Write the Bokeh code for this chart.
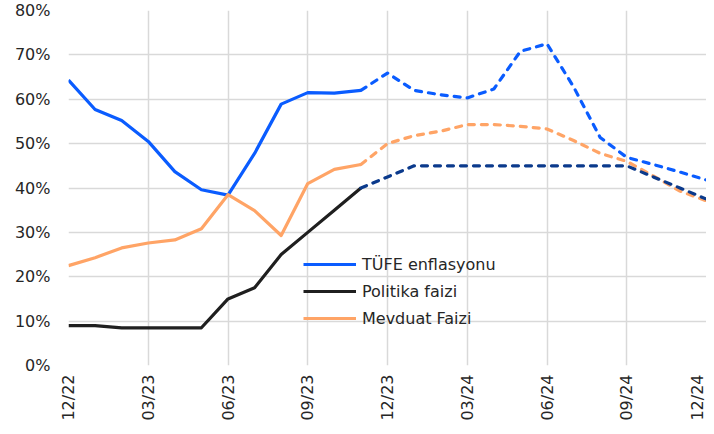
from bokeh.plotting import figure
from bokeh.models import FixedTicker, PrintfTickFormatter, Range1d, Legend, LegendItem
from bokeh.embed import file_html
from bokeh.resources import INLINE
import math

months = ["12/22", "01/23", "02/23", "03/23", "04/23", "05/23", "06/23", "07/23", "08/23",
          "09/23", "10/23", "11/23", "12/23", "01/24", "02/24", "03/24", "04/24", "05/24",
          "06/24", "07/24", "08/24", "09/24", "10/24", "11/24", "12/24"]
tufe = [64.3, 57.7, 55.2, 50.5, 43.7, 39.6, 38.4, 47.8, 58.9, 61.5, 61.4, 62.0, 65.9,
        62.0, 61.0, 60.3, 62.3, 70.8, 72.5, 62.8, 51.4, 46.9, 45.3, 43.6, 41.8]
politika = [9.0, 9.0, 8.5, 8.5, 8.5, 8.5, 15.0, 17.5, 25.0, 30.0, 35.0, 40.0, 42.5,
            45.0, 45.0, 45.0, 45.0, 45.0, 45.0, 45.0, 45.0, 45.0, 42.5, 40.0, 37.5]
mevduat = [22.5, 24.3, 26.5, 27.6, 28.3, 30.8, 38.5, 34.9, 29.3, 41.0, 44.2, 45.3, 50.0,
           51.8, 52.8, 54.3, 54.3, 53.9, 53.3, 50.7, 47.8, 46.0, 42.7, 39.3, 37.1]
split = 11  # last actual month (11/23); forecasts dashed afterwards
y_ticks = [0, 10, 20, 30, 40, 50, 60, 70, 80]

x = list(range(len(months)))
FONT = "DejaVu Sans"
TXT = "#262626"

p = figure(width=706, height=426, output_backend="svg", toolbar_location=None,
           x_range=Range1d(0, len(months) - 1), y_range=Range1d(0, 80),
           min_border_left=68, min_border_right=0, min_border_top=10, min_border_bottom=61)
p.outline_line_color = None
p.background_fill_color = "white"

# grids
p.xgrid.grid_line_color = "#d9d9d9"
p.ygrid.grid_line_color = "#d9d9d9"
p.xgrid.grid_line_width = 1.5
p.ygrid.grid_line_width = 1.5

# axes
p.xaxis.ticker = FixedTicker(ticks=x[::3])
p.xaxis.major_label_overrides = {i: months[i] for i in x[::3]}
p.xaxis.major_label_orientation = math.pi / 2
p.yaxis.ticker = FixedTicker(ticks=y_ticks)
p.yaxis.formatter = PrintfTickFormatter(format="%d%%")
for ax in (p.xaxis[0], p.yaxis[0]):
    ax.axis_line_color = None
    ax.major_tick_line_color = None
    ax.minor_tick_line_color = None
    ax.major_tick_out = 0
    ax.major_tick_in = 0
    ax.major_label_text_font = FONT
    ax.major_label_text_font_size = "16px"
    ax.major_label_text_color = TXT
p.yaxis.major_label_standoff = 18
p.xaxis.major_label_standoff = 9

BLUE = "#0a5cff"
BLACK = "#1f1f1f"
NAVY = "#0b3a8c"
ORANGE = "#ffa466"
LW = 3.2
DASH = "6 7"

xs = x[:split + 1]
xd = x[split:]
r_t = p.line(xs, tufe[:split + 1], line_color=BLUE, line_width=LW, line_join="round")
r_p = p.line(xs, politika[:split + 1], line_color=BLACK, line_width=LW, line_join="round")
r_m = p.line(xs, mevduat[:split + 1], line_color=ORANGE, line_width=LW, line_join="round")
p.line(xd, mevduat[split:], line_color=ORANGE, line_width=LW, line_dash=DASH, line_cap="round", line_join="round")
p.line(xd, politika[split:], line_color=NAVY, line_width=LW, line_dash=DASH, line_cap="round", line_join="round")
p.line(xd, tufe[split:], line_color=BLUE, line_width=LW, line_dash=DASH, line_cap="round", line_join="round")

legend = Legend(items=[LegendItem(label="TÜFE enflasyonu", renderers=[r_t]),
                       LegendItem(label="Politika faizi", renderers=[r_p]),
                       LegendItem(label="Mevduat Faizi", renderers=[r_m])],
                location=(235, 37), padding=0, margin=0, spacing=7,
                glyph_width=53, glyph_height=20, label_height=20, label_standoff=6,
                label_text_font=FONT, label_text_font_size="16px", label_text_color=TXT,
                background_fill_alpha=0, border_line_color=None)
p.add_layout(legend, "center")

open("out.html", "w").write(file_html(p, INLINE))
